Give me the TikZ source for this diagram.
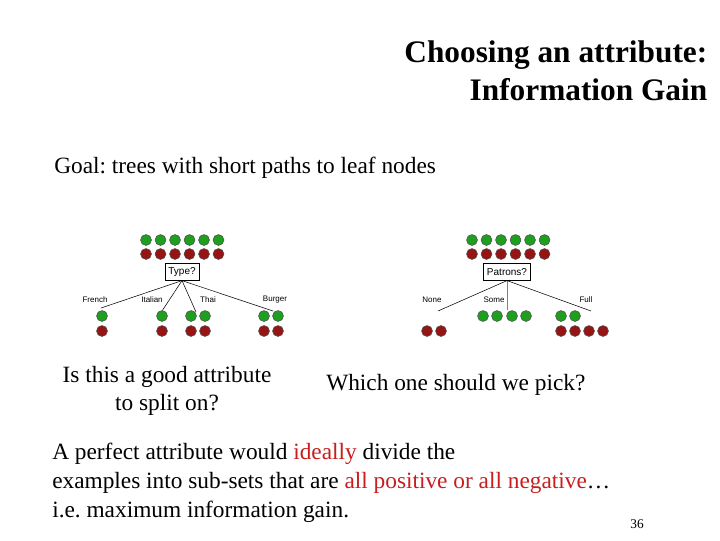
\documentclass[tikz,border=0pt]{standalone}
\usepackage{fontspec}
\setmainfont{Liberation Serif}
\setsansfont{Liberation Sans}
\definecolor{posgreen}{RGB}{30,160,30}
\definecolor{negred}{RGB}{150,20,20}
\definecolor{hlred}{RGB}{200,30,30}
\frenchspacing
\begin{document}
\begin{tikzpicture}[x=0.75pt,y=-0.75pt]
	\tikzstyle{posdot}=[circle,draw=black!70,fill=posgreen,inner sep=0pt,minimum size=8.2pt]
	\tikzstyle{negdot}=[circle,draw=black!70,fill=negred,inner sep=0pt,minimum size=8.2pt]
	\tikzstyle{test}=[draw,fill=white,font=\sffamily\fontsize{7.5}{8}\selectfont,inner sep=2.5pt,minimum height=12.5pt]
	\tikzstyle{val}=[font=\sffamily\fontsize{6}{6}\selectfont,inner sep=0pt]
	\tikzstyle{body}=[font=\fontsize{17.5}{21.5}\selectfont,inner sep=0pt]
	\useasboundingbox (0,0) rectangle (720,540);
	%% title
	\node[anchor=east,align=right,font=\bfseries\fontsize{23.5}{28.5}\selectfont] (title) at (712,71)
		{Choosing an attribute:\\Information Gain};
	\node[body,anchor=west] (goal) at (54,168) {Goal: trees with short paths to leaf nodes};
	%% left tree
	\foreach \i in {0,...,5} {
		\node[posdot] (lg\i) at (146+14.5*\i,240) {};
		\node[negdot] (lr\i) at (146+14.5*\i,254) {};
	}
	\node[test] (type) at (182,272) {Type?};
	\coordinate (fr) at (101,308);
	\coordinate (it) at (162,311);
	\coordinate (th) at (196,312);
	\coordinate (bu) at (273,311);
	\foreach \e in {fr,it,th,bu} \draw[thin] (type.south) -- (\e);
	\node[val] (frl) at (95,300) {French};
	\node[val] (itl) at (152,300) {Italian};
	\node[val] (thl) at (208,300) {Thai};
	\node[val] (bul) at (275,300) {Burger};
	\foreach \x in {102,162,191,205,264,278} {
		\node[posdot] at (\x,316) {};
		\node[negdot] at (\x,331) {};
	}
	%% right tree
	\foreach \i in {0,...,5} {
		\node[posdot] (rg\i) at (472+14.5*\i,240) {};
		\node[negdot] (rr\i) at (472+14.5*\i,254) {};
	}
	\node[test] (patrons) at (507,272) {Patrons?};
	\coordinate (no) at (438,311);
	\coordinate (so) at (507,310);
	\coordinate (fu) at (591,311);
	\draw[thin] (patrons.south) -- (no);
	\draw[thin,gray] (patrons.south) -- (so);
	\draw[thin] (patrons.south) -- (fu);
	\node[val] (nol) at (432,300) {None};
	\node[val] (sol) at (494,300) {Some};
	\node[val] (ful) at (586,300) {Full};
	\foreach \x in {427,441} \node[negdot] at (\x,331) {};
	\foreach \x in {483,497,512,526} \node[posdot] at (\x,316) {};
	\foreach \x in {561,575} \node[posdot] at (\x,316) {};
	\foreach \x in {561,575,589,603} \node[negdot] at (\x,331) {};
	%% questions
	\node[body,align=center] (q1) at (167,391) {Is this a good attribute\\to split on?};
	\node[body,anchor=west] (q2) at (326,385) {Which one should we pick?};
	\node[body,anchor=north west,align=left] (para) at (52,443)
		{A perfect attribute would \textcolor{hlred}{ideally} divide the\\
		examples into sub-sets that are \textcolor{hlred}{all positive or all negative}\dots\\
		i.e. maximum information gain.};
	\node[font=\fontsize{10}{12}\selectfont] (page) at (637,524) {36};
\end{tikzpicture}
\end{document}
